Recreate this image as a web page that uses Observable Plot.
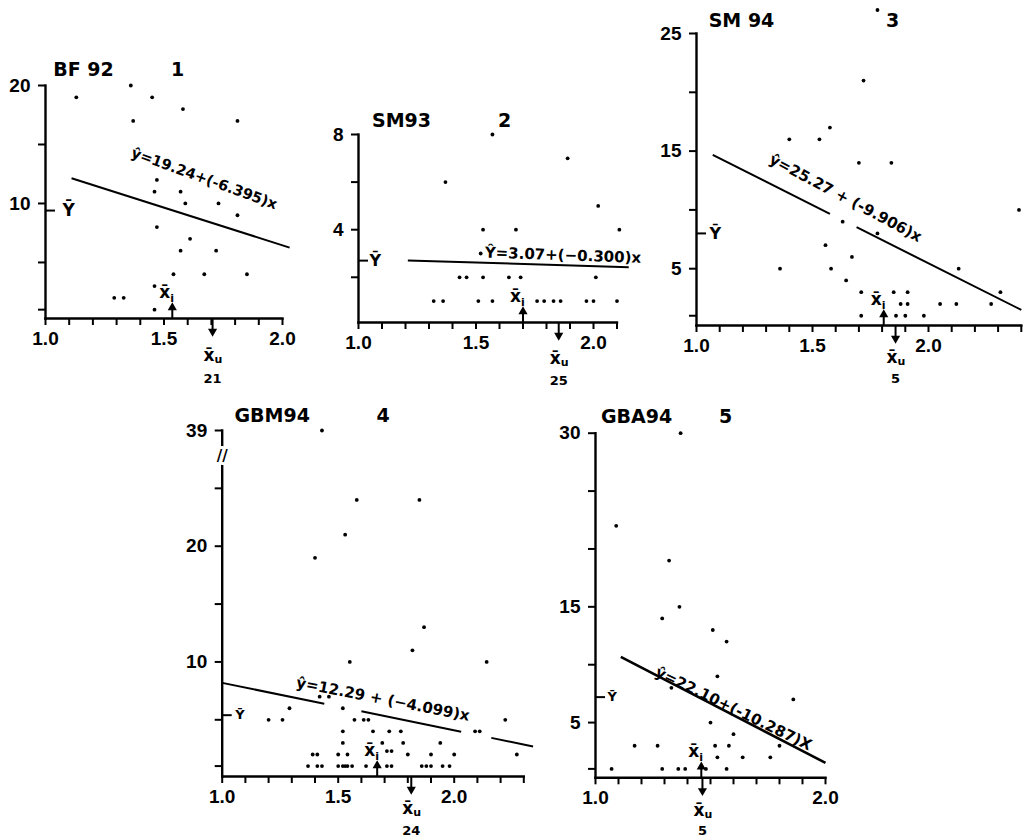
<!DOCTYPE html>
<html><head><meta charset="utf-8">
<script src="https://cdn.jsdelivr.net/npm/d3@7"></script>
<script src="https://cdn.jsdelivr.net/npm/@observablehq/plot@0.6"></script>
<style>
html,body{margin:0;padding:0;background:#fff;}
#page{position:relative;width:1030px;height:837px;overflow:hidden;background:#fff;}
#page > div{position:absolute;}
svg{overflow:visible;}
</style></head><body><div id="page"></div>
<script>
// ---- data ----
const bf92X = [1.13, 1.36, 1.37, 1.45, 1.58, 1.81, 1.47, 1.46, 1.57, 1.59, 1.73, 1.81, 1.47, 1.61, 1.57, 1.72, 1.54, 1.67, 1.85, 1.46, 1.29, 1.33, 1.46];
const bf92Y = [19, 20, 17, 19, 18, 17, 12, 11, 11, 10, 10, 9, 8, 7, 6, 6, 4, 4, 4, 3, 2, 2, 1];

const sm93X = [1.57, 1.89, 1.37, 2.02, 1.53, 1.67, 2.11, 1.52, 1.43, 1.46, 1.53, 1.64, 1.69, 2.01, 1.32, 1.36, 1.51, 1.57, 1.76, 1.79, 1.83, 1.86, 1.97, 2.00, 2.10];
const sm93Y = [8, 7, 6, 5, 4, 4, 4, 3, 2, 2, 2, 2, 2, 2, 1, 1, 1, 1, 1, 1, 1, 1, 1, 1, 1];

const sm94X = [1.78, 1.72, 1.575, 1.40, 1.53, 1.70, 1.84, 2.39, 1.63, 1.78, 1.556, 1.67, 1.36, 1.58, 2.13, 1.645, 1.71, 1.85, 1.91, 2.31, 1.88, 1.91, 2.05, 2.12, 2.27, 1.71, 1.86, 1.90, 1.98];
const sm94Y = [27, 21, 17, 16, 16, 14, 14, 10, 9, 8, 7, 6, 5, 5, 5, 4, 3, 3, 3, 3, 2, 2, 2, 2, 2, 1, 1, 1, 1];

const gbm94X = [1.43, 1.58, 1.85, 1.53, 1.40, 1.87, 1.82, 1.55, 2.14, 1.42, 1.46, 1.29, 1.52, 1.20, 1.26, 1.57, 1.61, 1.63, 2.22,
  1.52, 1.65, 1.72, 1.77, 2.09, 2.11,
  1.52, 1.69, 1.78, 1.94,
  1.39, 1.41, 1.50, 1.54, 1.71, 1.73, 1.80, 1.90, 2.00, 2.27,
  1.37, 1.41, 1.43, 1.50, 1.52, 1.53, 1.54, 1.56, 1.62, 1.71, 1.73, 1.86, 1.88, 1.90, 1.95, 1.98];
const gbm94Y = [39, 24, 24, 21, 19, 13, 11, 10, 10, 7, 7, 6, 6, 5, 5, 5, 5, 5, 5,
  4, 4, 4, 4, 4, 4,
  3, 3, 3, 3,
  2, 2, 2, 2, 2.3, 2.3, 2, 2, 2, 2,
  1, 1, 1, 1, 1, 1, 1, 1, 1, 1, 1, 1, 1, 1, 1, 1];

const gba94X = [1.37, 1.09, 1.32, 1.365, 1.29, 1.51, 1.57, 1.53, 1.33, 1.86, 1.50, 1.60, 1.17, 1.27, 1.52, 1.58, 1.80, 1.53, 1.64, 1.76, 1.07, 1.29, 1.36, 1.39, 1.48, 1.57];
const gba94Y = [30, 22, 19, 15, 14, 13, 12, 9, 8, 7, 5, 4, 3, 3, 3, 3, 3, 2, 2, 2, 1, 1, 1, 1, 1, 1];

const panelTitles = ["BF 92", "SM93", "SM 94", "GBM94", "GBA94"];
const panelNumbers = ["1", "2", "3", "4", "5"];
const intercepts = [19.24, 3.07, 25.27, 12.29, 22.10];
const slopes = [-6.395, -0.300, -9.906, -4.099, -10.287];
const equations = ["\u0177=19.24+(-6.395)x", "\u0176=3.07+(\u22120.300)x", "\u0177=25.27 + (-9.906)x", "\u0177=12.29 + (\u22124.099)x", "\u0177=22.10+(-10.287)X"];
const yBars = [9.4, 2.7, 8.0, 5.4, 7.2];
const xBarI = [1.535, 1.70, 1.807, 1.668, 1.46];
const xBarU = [1.705, 1.852, 1.858, 1.815, 1.465];
const nU = [21, 25, 5, 24, 5];
const lineSegments = [[[1.11, 2.03]], [[1.21, 2.15]], [[1.07, 1.575], [1.69, 2.40]], [[1.0, 1.44], [1.60, 2.03], [2.16, 2.34]], [[1.11, 2.0]]];

const xTicks = [
  [1.0, 1.1, 1.2, 1.3, 1.4, 1.5, 1.6, 1.7, 1.8, 1.9, 2.0],
  [1.0, 1.1, 1.2, 1.3, 1.4, 1.5, 1.6, 1.7, 1.8, 1.9, 2.0, 2.1],
  [1.0, 1.1, 1.2, 1.3, 1.4, 1.5, 1.6, 1.7, 1.8, 1.9, 2.0, 2.1, 2.2, 2.3, 2.4],
  [1.0, 1.1, 1.2, 1.3, 1.4, 1.5, 1.6, 1.7, 1.8, 1.9, 2.0, 2.1, 2.2, 2.3],
  [1.0, 1.1, 1.2, 1.3, 1.4, 1.5, 1.6, 1.7, 1.8, 1.9, 2.0]
];
const xTickLabels = [[1.0, 1.5, 2.0], [1.0, 1.5, 2.0], [1.0, 1.5, 2.0], [1.0, 1.5, 2.0], [1.0, 2.0]];
const yTicks = [[1, 5, 10, 15, 20], [2, 4, 6, 8], [1, 5, 10, 15, 20, 25], [1, 5, 10, 15, 20, 25, 39], [1, 5, 10, 15, 20, 25, 30]];
const yTickLabels = [[10, 20], [4, 8], [5, 15, 25], [10, 20, 39], [5, 15, 30]];

// ---- layout (pixels, page coordinates) ----
const layouts = [
  {xs: bf92X, ys: bf92Y, box: {l: 0, t: 50, w: 300, h: 340}, frame: {x0: 45, x1: 282, yt: 85, yb: 318},
   xDomain: [1, 2], yDomain: [0.25, 20], eqPos: [1.67, 12.1], eqRot: 20, eqSize: 14.5,
   titleOff: [38, -16], numOff: [132, -16], ybarDx: 17, ybarSize: 17, uDy: 37, nDy: 60},
  {xs: sm93X, ys: sm93Y, box: {l: 320, t: 100, w: 330, h: 290}, frame: {x0: 358, x1: 616.5, yt: 134, yb: 322},
   xDomain: [1, 2.1], yDomain: [0.1, 8], eqPos: [1.87, 2.92], eqRot: 2, eqSize: 15,
   titleOff: [43, -14], numOff: [146, -14], ybarDx: 11, ybarSize: 16, uDy: 36, nDy: 58},
  {xs: sm94X, ys: sm94Y, box: {l: 655, t: 0, w: 375, h: 390}, frame: {x0: 696, x1: 1020.8, yt: 33, yb: 325},
   xDomain: [1, 2.4], yDomain: [0.17, 25], eqPos: [1.642, 11.0], eqRot: 28, eqSize: 15,
   titleOff: [45, -13], numOff: [196, -13], ybarDx: 13, ybarSize: 16, uDy: 32, nDy: 53},
  {xs: gbm94X, ys: gbm94Y, box: {l: 180, t: 395, w: 360, h: 442}, frame: {x0: 221.7, x1: 523.3, yt: 430, yb: 776},
   xDomain: [1, 2.3], yDomain: [0.1, 30], yCut: 27, yCutScale: 0.25, yBreakAt: 30,
   eqPos: [1.693, 6.77], eqRot: 11, eqSize: 15,
   titleOff: [50, -15], numOff: [161, -15], ybarDx: 13, ybarSize: 13, uDy: 32, nDy: 54},
  {xs: gba94X, ys: gba94Y, box: {l: 545, t: 395, w: 300, h: 442}, frame: {x0: 595, x1: 825, yt: 432.7, yb: 777.3},
   xDomain: [1, 2], yDomain: [0.23, 30], eqPos: [1.6, 6.2], eqRot: 26, eqSize: 15,
   titleOff: [41, -16], numOff: [130, -16], ybarDx: 12, ybarSize: 13, uDy: 33, nDy: 53}
];

const BOLD_FONT = "DejaVu Sans, sans-serif";

function makePanel(p, i) {
  const ml = p.frame.x0 - p.box.l;
  const mr = p.box.l + p.box.w - p.frame.x1;
  const mt = p.frame.yt - p.box.t;
  const mb = p.box.t + p.box.h - p.frame.yb;
  const xMin = p.xDomain[0];
  const yMin = p.yDomain[0];
  const a = intercepts[i], b = slopes[i];
  const f = (x) => a + b * x;
  const pts = p.xs.map((x, k) => ({x, y: p.ys[k]}));
  const yScale = {domain: p.yDomain, label: null};
  if (p.yCut !== undefined) {
    // broken axis: values above the cut are compressed
    yScale.transform = (v) => (v > p.yCut ? p.yCut + (v - p.yCut) * p.yCutScale : v);
  }

  const marks = [
    // axis lines
    Plot.frame({anchor: "left", stroke: "#000", strokeWidth: 2.4}),
    Plot.frame({anchor: "bottom", stroke: "#000", strokeWidth: 2.4}),
    Plot.axisX(xTicks[i], {tickSize: 7, tickPadding: 6, strokeWidth: 2,
      tickFormat: (d) => (xTickLabels[i].includes(d) ? d.toFixed(1) : "")}),
    Plot.axisY(yTicks[i], {tickSize: 7, tickPadding: 8, strokeWidth: 2,
      tickFormat: (d) => (yTickLabels[i].includes(d) ? String(d) : "")}),
    // Y-bar marker
    Plot.ruleY([yBars[i]], {y: (d) => d, x1: xMin, x2: xMin, insetRight: -10, stroke: "#000", strokeWidth: 2}),
    Plot.text(["\u0232"], {x: xMin, y: yBars[i], text: (d) => d, textAnchor: "start", dx: p.ybarDx, fontFamily: BOLD_FONT, fontSize: p.ybarSize}),
    // data points
    Plot.dot(pts, {x: (d) => d.x, y: (d) => d.y, r: 1.9, fill: "#000", stroke: "none"}),
    // regression line
    Plot.link(lineSegments[i], {x1: (d) => d[0], x2: (d) => d[1], y1: (d) => f(d[0]), y2: (d) => f(d[1]), stroke: "#000", strokeWidth: i === 4 ? 2.6 : 2}),
    Plot.text([equations[i]], {x: p.eqPos[0], y: p.eqPos[1], text: (d) => d, rotate: p.eqRot, fontFamily: BOLD_FONT, fontSize: p.eqSize}),
    // x-bar i arrow
    Plot.ruleX([xBarI[i]], {x: (d) => d, y1: yMin, y2: yMin, insetTop: -12, stroke: "#000", strokeWidth: 2}),
    Plot.dot([xBarI[i]], {x: (d) => d, y: yMin, dy: -11, symbol: "triangle", r: 3.4, fill: "#000", stroke: "none"}),
    Plot.text(["x\u0304"], {x: xBarI[i], y: yMin, text: (d) => d, textAnchor: "end", dx: -2, dy: -26, fontFamily: BOLD_FONT, fontSize: 17}),
    Plot.text(["i"], {x: xBarI[i], y: yMin, text: (d) => d, textAnchor: "start", dx: -2, dy: -20, fontFamily: BOLD_FONT, fontSize: 11}),
    // x-bar u arrow
    Plot.ruleX([xBarU[i]], {x: (d) => d, y1: yMin, y2: yMin, insetBottom: -15, stroke: "#000", strokeWidth: 2}),
    Plot.dot([xBarU[i]], {x: (d) => d, y: yMin, dy: 13, symbol: "triangle", rotate: 180, r: 3.4, fill: "#000", stroke: "none"}),
    Plot.text(["x\u0304"], {x: xBarU[i], y: yMin, text: (d) => d, textAnchor: "end", dx: 2, dy: p.uDy, fontFamily: BOLD_FONT, fontSize: 17}),
    Plot.text(["u"], {x: xBarU[i], y: yMin, text: (d) => d, textAnchor: "start", dx: 2, dy: p.uDy + 4, fontFamily: BOLD_FONT, fontSize: 11}),
    Plot.text([nU[i]], {x: xBarU[i], y: yMin, text: (d) => String(d), dy: p.nDy, fontFamily: BOLD_FONT, fontSize: 13}),
    // titles
    Plot.text([panelTitles[i]], {frameAnchor: "top-left", textAnchor: "middle", lineAnchor: "middle", dx: p.titleOff[0], dy: p.titleOff[1], text: (d) => d, fontFamily: BOLD_FONT, fontSize: 19}),
    Plot.text([panelNumbers[i]], {frameAnchor: "top-left", textAnchor: "middle", lineAnchor: "middle", dx: p.numOff[0], dy: p.numOff[1], text: (d) => d, fontFamily: BOLD_FONT, fontSize: 19})
  ];
  if (p.yBreakAt !== undefined) {
    // axis break: slashes with a white halo that interrupts the axis line
    marks.push(Plot.text(["//"], {x: xMin, y: p.yBreakAt, text: (d) => d, fontFamily: BOLD_FONT, fontSize: 15,
      fill: "#000", stroke: "#fff", strokeWidth: 6, paintOrder: "stroke"}));
  }

  return Plot.plot({
    width: p.box.w,
    height: p.box.h,
    marginLeft: ml, marginRight: mr, marginTop: mt, marginBottom: mb,
    x: {domain: p.xDomain, label: null},
    y: yScale,
    style: {fontFamily: "Liberation Sans, Arial, sans-serif", fontWeight: "bold", fontSize: "19px", background: "transparent", color: "#000"},
    marks
  });
}

const page = document.getElementById("page");
layouts.forEach((p, i) => {
  const div = document.createElement("div");
  div.style.left = p.box.l + "px";
  div.style.top = p.box.t + "px";
  div.style.width = p.box.w + "px";
  div.style.height = p.box.h + "px";
  div.append(makePanel(p, i));
  page.append(div);
});
</script></body></html>
